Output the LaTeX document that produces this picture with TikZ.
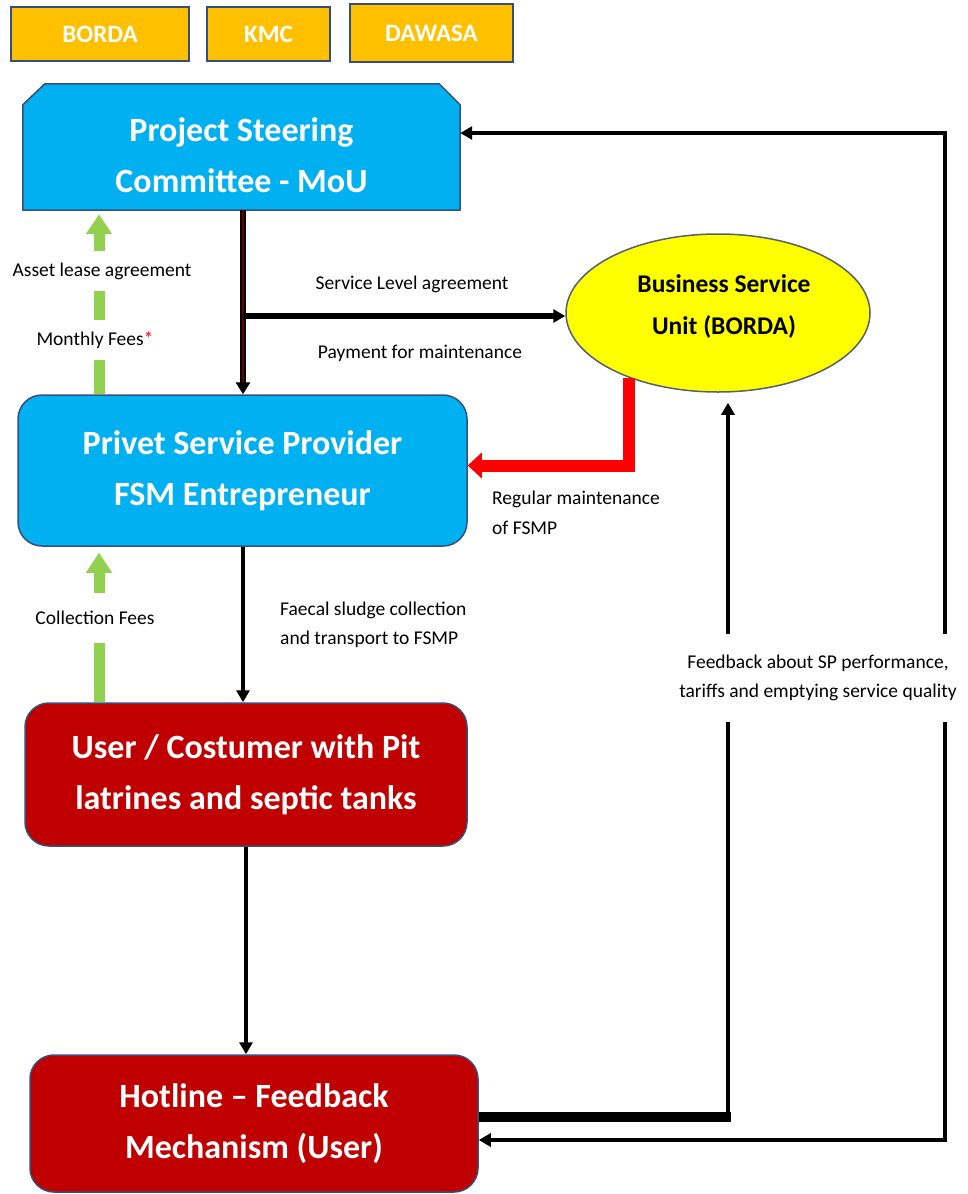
\documentclass[tikz,border=0pt]{standalone}
\usepackage{fontspec}
\setmainfont{Carlito}
\usetikzlibrary{arrows.meta,shapes.geometric}
\definecolor{orng}{HTML}{FFC000}
\definecolor{sky}{HTML}{00B0F0}
\definecolor{dred}{HTML}{C00000}
\definecolor{edge}{HTML}{34507A}
\definecolor{grn}{HTML}{92D050}
\definecolor{brn}{HTML}{6B0000}
\definecolor{ylw}{HTML}{FFFF00}
\definecolor{elledge}{HTML}{55606A}
\begin{document}
\begin{tikzpicture}[x=1pt,y=-1pt,
 topbox/.style={draw=edge, line width=2pt, fill=orng, text=white, font=\fontsize{25}{28}\selectfont\bfseries, inner sep=0pt},
 bigbox/.style={draw=edge, line width=1.5pt, rounded corners=24pt, text=white, font=\fontsize{34}{51}\selectfont\bfseries, align=center, inner sep=0pt},
 btext/.style={text=white, font=\fontsize{34}{51}\selectfont\bfseries, align=center, inner sep=0pt},
 lbl/.style={font=\fontsize{19.5}{29}\selectfont, align=left, inner sep=1pt},
 blk/.style={-{Triangle[length=12pt,width=13pt]}, line width=4pt},
 grnarrow/.style={grn, line width=11pt, -{Triangle[length=20pt,width=25pt]}},
]
\useasboundingbox (0,0) rectangle (967,1194);

% top boxes
\node[topbox, minimum width=178pt, minimum height=54pt] (borda) at (100,34) {BORDA};
\node[topbox, minimum width=123pt, minimum height=54pt] (kmc) at (268.5,34) {KMC};
\node[topbox, minimum width=163pt, minimum height=58pt] (dawasa) at (431.5,33) {DAWASA};

% Project steering committee (chamfered top corners)
\path node[rectangle, minimum width=437pt, minimum height=126pt, inner sep=0pt] (psc) at (241.5,147) {};
\draw[draw=edge, line width=1.5pt, fill=sky, line join=round]
  (psc.south west) -- ([yshift=-21pt]psc.north west) -- ([xshift=22pt]psc.north west)
  -- ([xshift=-21pt]psc.north east) -- ([yshift=-21pt]psc.north east) -- (psc.south east) -- cycle;
\node[btext] (psctext) at ([yshift=-8pt]psc.center) {Project Steering\\Committee - MoU};

% main boxes
\node[bigbox, fill=sky, minimum width=449pt, minimum height=151pt] (prv) at (242.5,470.5) {Privet Service Provider\\FSM Entrepreneur};
\node[bigbox, fill=dred, minimum width=442pt, minimum height=143pt] (usr) at (246,774.5) {User / Costumer with Pit\\latrines and septic tanks};
\node[bigbox, fill=dred, minimum width=448pt, minimum height=137pt] (hot) at (254,1123.5) {Hotline -- Feedback\\Mechanism (User)};
\node[ellipse, draw=elledge, line width=1.5pt, fill=ylw, minimum width=304pt, minimum height=158pt, inner sep=0pt] (bsu) at (718,313) {};
\node[align=center, inner sep=0pt, font=\fontsize{25.5}{42}\selectfont\bfseries] (bsutext) at (724,306) {Business Service\\Unit (BORDA)};

% coordinates
\coordinate (vx) at (243,0);
\coordinate (j) at (243,316);
\coordinate (gx) at (99,0);
\coordinate (c1) at (728,1117);
\coordinate (r1) at (945,133);
\coordinate (r2) at (945,1140);

% PSC -> Privet (dark red with black edge)
\draw[line width=6pt, -{Triangle[length=12pt,width=14pt]}] (psc.south -| vx) -- (prv.north -| vx);
\draw[brn, line width=2.5pt, shorten >=12pt] (psc.south -| vx) -- (prv.north -| vx);

% Service level agreement arrow
\draw[blk, line width=6pt] (j) -- (j -| bsu.west);
\node[lbl] (sla) at (412,284) {Service Level agreement};
\node[lbl] (pfm) at (420,353) {Payment for maintenance};

% red arrow
\draw[red, line width=12pt, -{Triangle[length=14pt,width=25pt]}] (bsu.216) |- ([yshift=5pt]prv.east);
\node[lbl, anchor=north west, font=\fontsize{19.5}{30}\selectfont] (rm) at (491,490) {Regular maintenance\\of FSMP};

% green arrows
\draw[grnarrow, shorten >=4pt] (prv.north -| gx) -- (psc.south -| gx);
\node[lbl, fill=white, inner ysep=12pt] (ala) at (102,271) {Asset lease agreement};
\node[lbl, fill=white, inner ysep=12pt] (mf) at (95,340) {Monthly Fees\textcolor{red}{*}};
\draw[grnarrow, shorten >=6pt] (usr.north -| gx) -- (prv.south -| gx);
\node[lbl, fill=white, inner ysep=18pt] (cf) at (95,618) {Collection Fees};

% Privet -> User
\draw[blk] (prv.south -| vx) -- (usr.north -| vx);
\node[lbl, anchor=west] (fs) at (279,625) {Faecal sludge collection\\and transport to FSMP};

% User -> Hotline
\draw[blk] (usr.south) -- (usr.south |- hot.north);

% Hotline -> BSU
\draw[line width=10pt] (hot.east |- c1) -- ([xshift=3pt]c1);
\draw[blk, shorten >=10pt] ([yshift=5pt]c1) -- (c1 |- bsu.south);

% right loop
\draw[{Triangle[length=12pt,width=13pt]}-{Triangle[length=12pt,width=13pt]}, line width=4.5pt] (psc.east |- r1) -- (r1) -- (r2) -- (hot.east |- r2);

% feedback label
\node[lbl, align=center, fill=white, inner xsep=1pt, inner ysep=21pt] (fb) at (818,678) {Feedback about SP performance,\\tariffs and emptying service quality};
\end{tikzpicture}
\end{document}
